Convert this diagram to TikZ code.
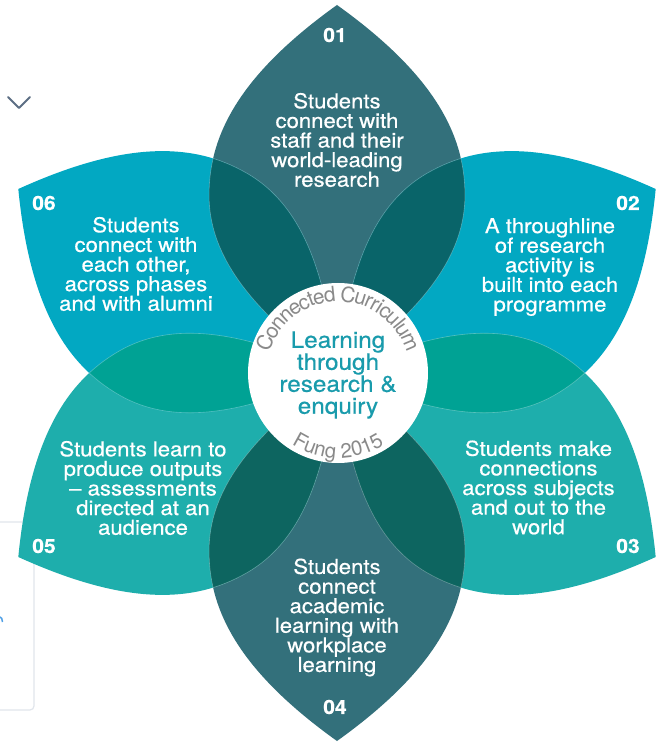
\documentclass[tikz,border=0pt]{standalone}
\usepackage{fontspec}
\setmainfont{TeX Gyre Heros}[FakeStretch=1.08, FakeBold=0.5]
\newfontfamily\arcfont{TeX Gyre Heros}
\usetikzlibrary{decorations.text}
\definecolor{pA}{RGB}{51,112,123}
\definecolor{pB}{RGB}{2,168,194}
\definecolor{pC}{RGB}{30,174,172}
\definecolor{oAB}{RGB}{9,100,105}
\definecolor{oBC}{RGB}{0,162,148}
\definecolor{oCA}{RGB}{13,101,96}
\definecolor{ctext}{RGB}{25,155,172}
\definecolor{gtext}{RGB}{138,138,138}
\definecolor{uigray}{RGB}{225,230,236}
\definecolor{uichev}{RGB}{92,110,132}
\definecolor{uiblue}{RGB}{80,160,230}
\newcommand{\petal}[1]{(0,0)
  .. controls ({#1+53.75}:93.0pt) and ({#1+49.33}:168.8pt) .. ({#1+35.71}:219.2pt)
  .. controls ({#1+28.07}:272.0pt) and ({#1+17.57}:314.7pt) .. (#1:368pt)
  .. controls ({#1-17.57}:314.7pt) and ({#1-28.07}:272.0pt) .. ({#1-35.71}:219.2pt)
  .. controls ({#1-49.33}:168.8pt) and ({#1-53.75}:93.0pt) .. (0,0) -- cycle}
\newcommand{\overlap}[3]{%
  \begin{scope}\clip \petal{#1}; \fill[#3] \petal{#2}; \draw[edgeline] \petal{#2};\end{scope}%
  \begin{scope}\clip \petal{#2}; \draw[edgeline] \petal{#1};\end{scope}}
\tikzset{
  edgeline/.style={white, opacity=0.3, line width=0.6pt},
  body/.style={text=white, align=center, inner sep=0pt, font=\fontsize{20.5}{19.6}\selectfont},
  num/.style={text=white, inner sep=0pt, font=\bfseries\fontsize{19.5}{20}\selectfont},
  hubtext/.style={text=ctext, align=center, inner sep=0pt, font=\fontsize{22.5}{22}\selectfont}
}
\begin{document}
\begin{tikzpicture}[x=1pt,y=1pt]
\useasboundingbox (-337,-369) rectangle (326,373);
\fill[white] (-337,-369) rectangle (326,373);
% page artefacts
\draw[uigray, line width=1.2pt, rounded corners=4pt] (-347,-149) rectangle (-303,-337);
\draw[uichev, line width=2pt, line cap=round, line join=round] (-329,276) -- (-318,265) -- (-307,276);
\draw[uiblue, line width=1.5pt] (-337,-244) arc (90:0:2.5pt and 5pt);
% petals
\fill[pA] \petal{90};
\fill[pB] \petal{30};
\fill[pC] \petal{-30};
\fill[pA] \petal{-90};
\fill[pC] \petal{-150};
\fill[pB] \petal{150};
% overlaps
\overlap{90}{30}{oAB}
\overlap{90}{150}{oAB}
\overlap{30}{-30}{oBC}
\overlap{150}{-150}{oBC}
\overlap{-30}{-90}{oCA}
\overlap{-150}{-90}{oCA}
% hub
\node[circle, fill=white, minimum size=180pt, inner sep=0pt] (hub) at (1,0) {};
\path[decorate, decoration={text along path, raise=-10.5pt, text={|\arcfont\fontsize{21}{21}\selectfont|Connected Curriculum}, text align=center, text color=gtext}] (hub.center) ++(178:82pt) arc (178:2:82pt);
\path[decorate, decoration={text along path, text={|\arcfont\fontsize{20.5}{20.5}\selectfont|Fung 2015}, text align=center, text color=gtext}] (hub.center) ++(225:85pt) arc (225:315:85pt);
\node[hubtext] (core) at (1,-2) {Learning\\through\\research \&\\enquiry};
% petal texts
\node[num] (n1) at (-2,338) {01};
\node[body] (t1) at (0,233) {Students\\connect with\\staff and their\\world-leading\\research};
\node[num] (n2) at (291,170) {02};
\node[body] (t2) at (213,106) {A throughline\\of research\\activity is\\built into each\\programme};
\node[num] (n3) at (291,-173) {03};
\node[body] (t3) at (201.5,-114.5) {Students make\\connections\\across subjects\\and out to the\\world};
\node[num] (n4) at (-2,-334) {04};
\node[body] (t4) at (0,-244.5) {Students\\connect\\academic\\learning with\\workplace\\learning};
\node[num] (n5) at (-293,-173) {05};
\node[body] (t5) at (-194,-115) {Students learn to\\produce outputs\\\textendash\ assessments\\directed at an\\audience};
\node[num] (n6) at (-293,170) {06};
\node[body] (t6) at (-201,109) {Students\\connect with\\each other,\\across phases\\and with alumni};
\end{tikzpicture}
\end{document}
